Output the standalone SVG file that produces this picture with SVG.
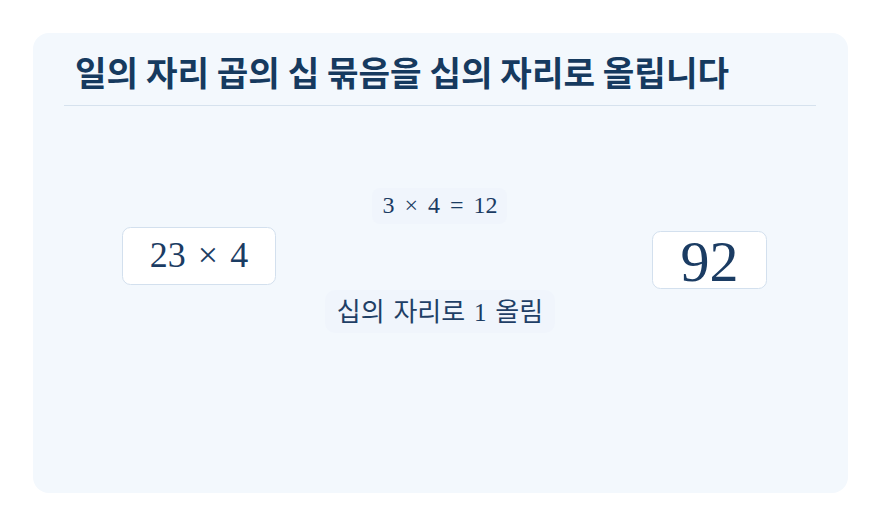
<svg xmlns="http://www.w3.org/2000/svg" width="881" height="526" viewBox="0 0 881 526">
<style>
.card{fill:#f3f8fd}
.title{font-family:"Noto Sans CJK KR","Noto Sans",sans-serif;font-weight:700;font-size:34.3px;fill:#163a5f}
.node rect{fill:#ffffff;stroke:#d3e0ee;stroke-width:1}
.math{font-family:"Liberation Serif","DejaVu Serif",serif;fill:#1b3c63}
.lbl{fill:#f0f5fc}
.ko{font-family:"Noto Sans CJK KR","Noto Sans",sans-serif;font-size:26px;fill:#1f3f66}
</style>
<rect width="881" height="526" fill="#ffffff"/>
<rect class="card" x="33" y="33" width="815" height="460" rx="16"/>
<text class="title" x="75" y="86">일의 자리 곱의 십 묶음을 십의 자리로 올립니다</text>
<line x1="64" y1="105.5" x2="816" y2="105.5" stroke="#d6e2ee" stroke-width="1"/>
<g id="connectors">
<g id="label-product">
<rect class="lbl" x="372" y="188" width="135" height="36" rx="8"/>
<text class="math" x="440" y="213" font-size="24" word-spacing="4" text-anchor="middle">3 × 4 = 12</text>
</g>
<g id="label-carry">
<rect class="lbl" x="325" y="290" width="230" height="43" rx="10"/>
<text class="ko" x="440" y="321" word-spacing="3" text-anchor="middle">십의 자리로 <tspan class="math" font-size="25">1</tspan> 올림</text>
</g>
</g>
<g id="node-problem" class="node">
<rect x="122.5" y="227.5" width="153" height="57" rx="8"/>
<text class="math" x="199" y="267" font-size="36" word-spacing="3" text-anchor="middle">23 × 4</text>
</g>
<g id="node-answer" class="node">
<rect x="652.5" y="231.5" width="114" height="57" rx="8"/>
<text class="math" x="709.5" y="281" font-size="58" text-anchor="middle">92</text>
</g>
</svg>
